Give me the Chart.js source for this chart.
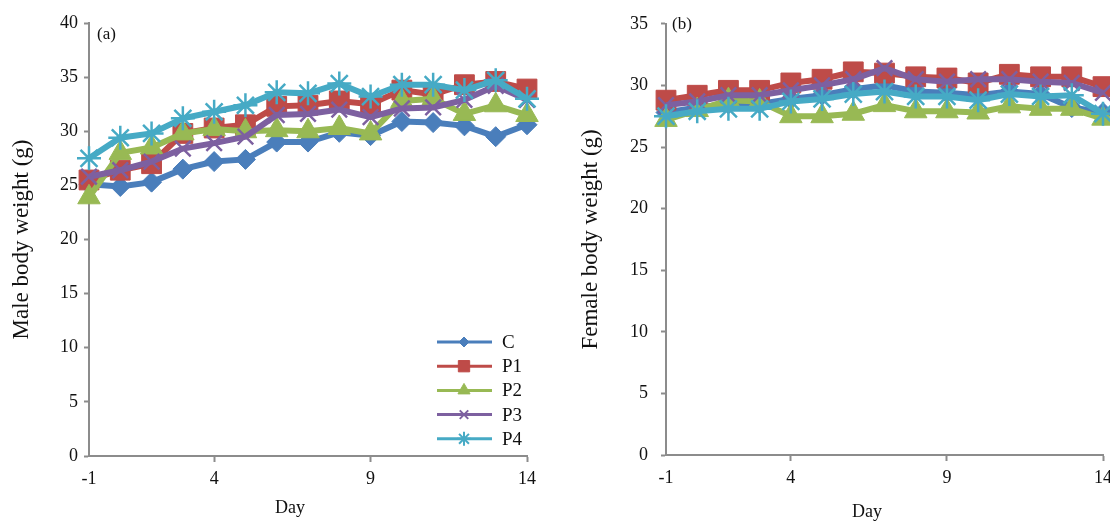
<!DOCTYPE html>
<html>
<head>
<meta charset="utf-8">
<script src="https://cdn.jsdelivr.net/npm/chart.js@4/dist/chart.umd.min.js"></script>
<style>
  html, body { margin: 0; padding: 0; background: #fff; overflow: hidden; }
  #left { position: absolute; left: 0; top: 0; }
  #right { position: absolute; left: 555px; top: 0; }
</style>
</head>
<body>
<canvas id="left" width="555" height="521"></canvas>
<canvas id="right" width="565" height="521"></canvas>
<script>
// days on the x axis (category axis, day 0 is not in the table)
const days = ['-1', '1', '2', '3', '4', '5', '6', '7', '8', '9', '10', '11', '12', '13', '14'];
const xTickLabels = ['-1', '4', '9', '14'];
const seriesNames = ['C', 'P1', 'P2', 'P3', 'P4'];

// male body weight (g)
const maleC  = [25.1, 24.9, 25.3, 26.5, 27.2, 27.4, 29.0, 29.0, 29.9, 29.6, 30.9, 30.8, 30.5, 29.5, 30.6];
const maleP1 = [25.5, 26.4, 27.0, 29.8, 30.3, 30.6, 32.3, 32.4, 32.8, 32.5, 33.8, 33.4, 34.3, 34.6, 33.9];
const maleP2 = [23.9, 28.0, 28.5, 29.8, 30.2, 30.0, 30.1, 30.0, 30.3, 29.8, 32.8, 33.0, 31.6, 32.4, 31.5];
const maleP3 = [25.8, 26.4, 27.2, 28.4, 28.9, 29.5, 31.5, 31.6, 32.0, 31.3, 32.1, 32.2, 32.9, 34.2, 32.9];
const maleP4 = [27.5, 29.4, 29.8, 31.2, 31.8, 32.4, 33.6, 33.5, 34.4, 33.2, 34.3, 34.3, 33.8, 34.7, 33.0];

// female body weight (g)
const femaleC  = [27.8, 28.2, 28.5, 28.5, 28.9, 29.2, 29.7, 30.0, 29.5, 29.4, 29.2, 29.5, 29.3, 28.2, 27.8];
const femaleP1 = [28.8, 29.2, 29.6, 29.6, 30.2, 30.5, 31.1, 31.0, 30.7, 30.6, 30.2, 30.9, 30.7, 30.7, 29.9];
const femaleP2 = [27.2, 28.0, 28.8, 28.7, 27.5, 27.5, 27.7, 28.4, 27.9, 27.9, 27.8, 28.3, 28.1, 28.1, 27.3];
const femaleP3 = [28.4, 28.7, 29.2, 29.2, 29.6, 30.0, 30.5, 31.4, 30.5, 30.3, 30.5, 30.5, 30.3, 30.2, 29.4];
const femaleP4 = [27.5, 27.9, 28.1, 28.1, 28.7, 28.9, 29.3, 29.5, 29.1, 29.1, 28.8, 29.3, 29.1, 29.2, 27.7];

const colors = ['#4a7ebb', '#be4b48', '#98b954', '#7d60a0', '#46aac5'];
const markers = [
    { style: 'rectRot', r: 10, bw: 1, legendR: 5 },
    { style: 'rect', r: 14, bw: 1, legendR: 8 },
    { style: 'triangle', r: 13, bw: 1, legendR: 7 },
    { style: 'crossRot', r: 11, bw: 2.5, legendR: 6 },
    { style: 'star', r: 12, bw: 2.5, legendR: 7 },
];

const axisGray = '#8c8c8c';
const serif = '"Liberation Serif", "DejaVu Serif", serif';

function makeDatasets(list) {
    return list.map((values, i) => ({
        label: seriesNames[i],
        data: values,
        borderColor: colors[i],
        backgroundColor: colors[i],
        borderWidth: 6,
        pointStyle: markers[i].style,
        pointRadius: markers[i].r,
        pointBorderWidth: markers[i].bw,
        pointBorderColor: colors[i],
        pointBackgroundColor: colors[i],
        tension: 0,
        order: 4 - i, // later series on top, like the original
    }));
}

// panel letter, x title and optional legend drawn on the canvas
const overlay = {
    id: 'overlay',
    afterDraw(chart, args, opts) {
        const ctx = chart.ctx;
        ctx.save();
        ctx.fillStyle = '#111';
        ctx.font = '17px ' + serif;
        ctx.textBaseline = 'middle';
        ctx.fillText(opts.panel, opts.panelX, opts.panelY);

        ctx.font = '18px ' + serif;
        ctx.textAlign = 'center';
        ctx.fillText('Day', opts.dayX, opts.dayY);
        ctx.textAlign = 'left';

        if (opts.legend) {
            const lx = opts.legendX;
            chart.data.datasets.forEach((ds, i) => {
                const y = opts.legendY + i * 24.2;
                ctx.strokeStyle = ds.borderColor;
                ctx.lineWidth = 3;
                ctx.beginPath();
                ctx.moveTo(lx, y);
                ctx.lineTo(lx + 55, y);
                ctx.stroke();
                ctx.fillStyle = ds.borderColor;
                ctx.lineWidth = markers[i].bw > 1 ? 2 : 1;
                if (Chart.helpers && Chart.helpers.drawPoint) {
                    Chart.helpers.drawPoint(ctx, {
                        pointStyle: markers[i].style,
                        radius: markers[i].legendR,
                        rotation: 0,
                        borderWidth: ctx.lineWidth,
                    }, lx + 27, y);
                }
                ctx.fillStyle = '#111';
                ctx.font = '19px ' + serif;
                ctx.fillText(ds.label, lx + 65, y + 1);
            });
        }
        ctx.restore();
    }
};

function makeChart(canvasId, datasets, yMax, yTitle, geo) {
    return new Chart(document.getElementById(canvasId), {
        type: 'line',
        data: { labels: days, datasets: datasets },
        plugins: [overlay],
        options: {
            responsive: false,
            animation: false,
            layout: { padding: { top: geo.top, right: geo.right, left: 0, bottom: 0 } },
            plugins: {
                legend: { display: false },
                tooltip: { enabled: false },
                overlay: geo.overlay,
            },
            scales: {
                x: {
                    offset: false,
                    afterFit: (s) => { s.height = geo.xHeight; },
                    border: { color: axisGray, width: 2 },
                    grid: {
                        drawOnChartArea: false,
                        tickLength: 6,
                        tickWidth: 2,
                        tickColor: (c) => (c.index > 0 && xTickLabels.includes(days[c.index])) ? axisGray : 'rgba(0,0,0,0)',
                    },
                    ticks: {
                        autoSkip: false,
                        maxRotation: 0,
                        padding: 6,
                        color: '#111',
                        font: { family: serif, size: 18 },
                        callback: (v, idx) => xTickLabels.includes(days[idx]) ? days[idx] : '',
                    },
                },
                y: {
                    min: 0,
                    max: yMax,
                    afterFit: (s) => { s.width = geo.yWidth; },
                    border: { color: axisGray, width: 2 },
                    grid: { drawOnChartArea: false, tickLength: 5, tickWidth: 2, tickColor: axisGray },
                    ticks: {
                        stepSize: 5,
                        padding: geo.yTickPad,
                        color: '#111',
                        font: { family: serif, size: 18 },
                    },
                    title: {
                        display: true,
                        text: yTitle,
                        color: '#111',
                        font: { family: serif, size: 23 },
                        padding: { top: geo.yTitlePad, bottom: 0 },
                    },
                },
            },
        },
    });
}

makeChart('left',
    makeDatasets([maleC, maleP1, maleP2, maleP3, maleP4]),
    40, 'Male body weight (g)',
    { top: 23, right: 28, xHeight: 65, yWidth: 89, yTickPad: 6, yTitlePad: 8,
      overlay: { panel: '(a)', panelX: 97, panelY: 35, dayX: 290, dayY: 508,
                 legend: true, legendX: 437, legendY: 342 } });

makeChart('right',
    makeDatasets([femaleC, femaleP1, femaleP2, femaleP3, femaleP4]),
    35, 'Female body weight (g)',
    { top: 22, right: 17, xHeight: 66, yWidth: 111, yTitlePad: 22, yTickPad: 13,
      overlay: { panel: '(b)', panelX: 117, panelY: 25, dayX: 312, dayY: 512, legend: false } });
</script>
</body>
</html>
